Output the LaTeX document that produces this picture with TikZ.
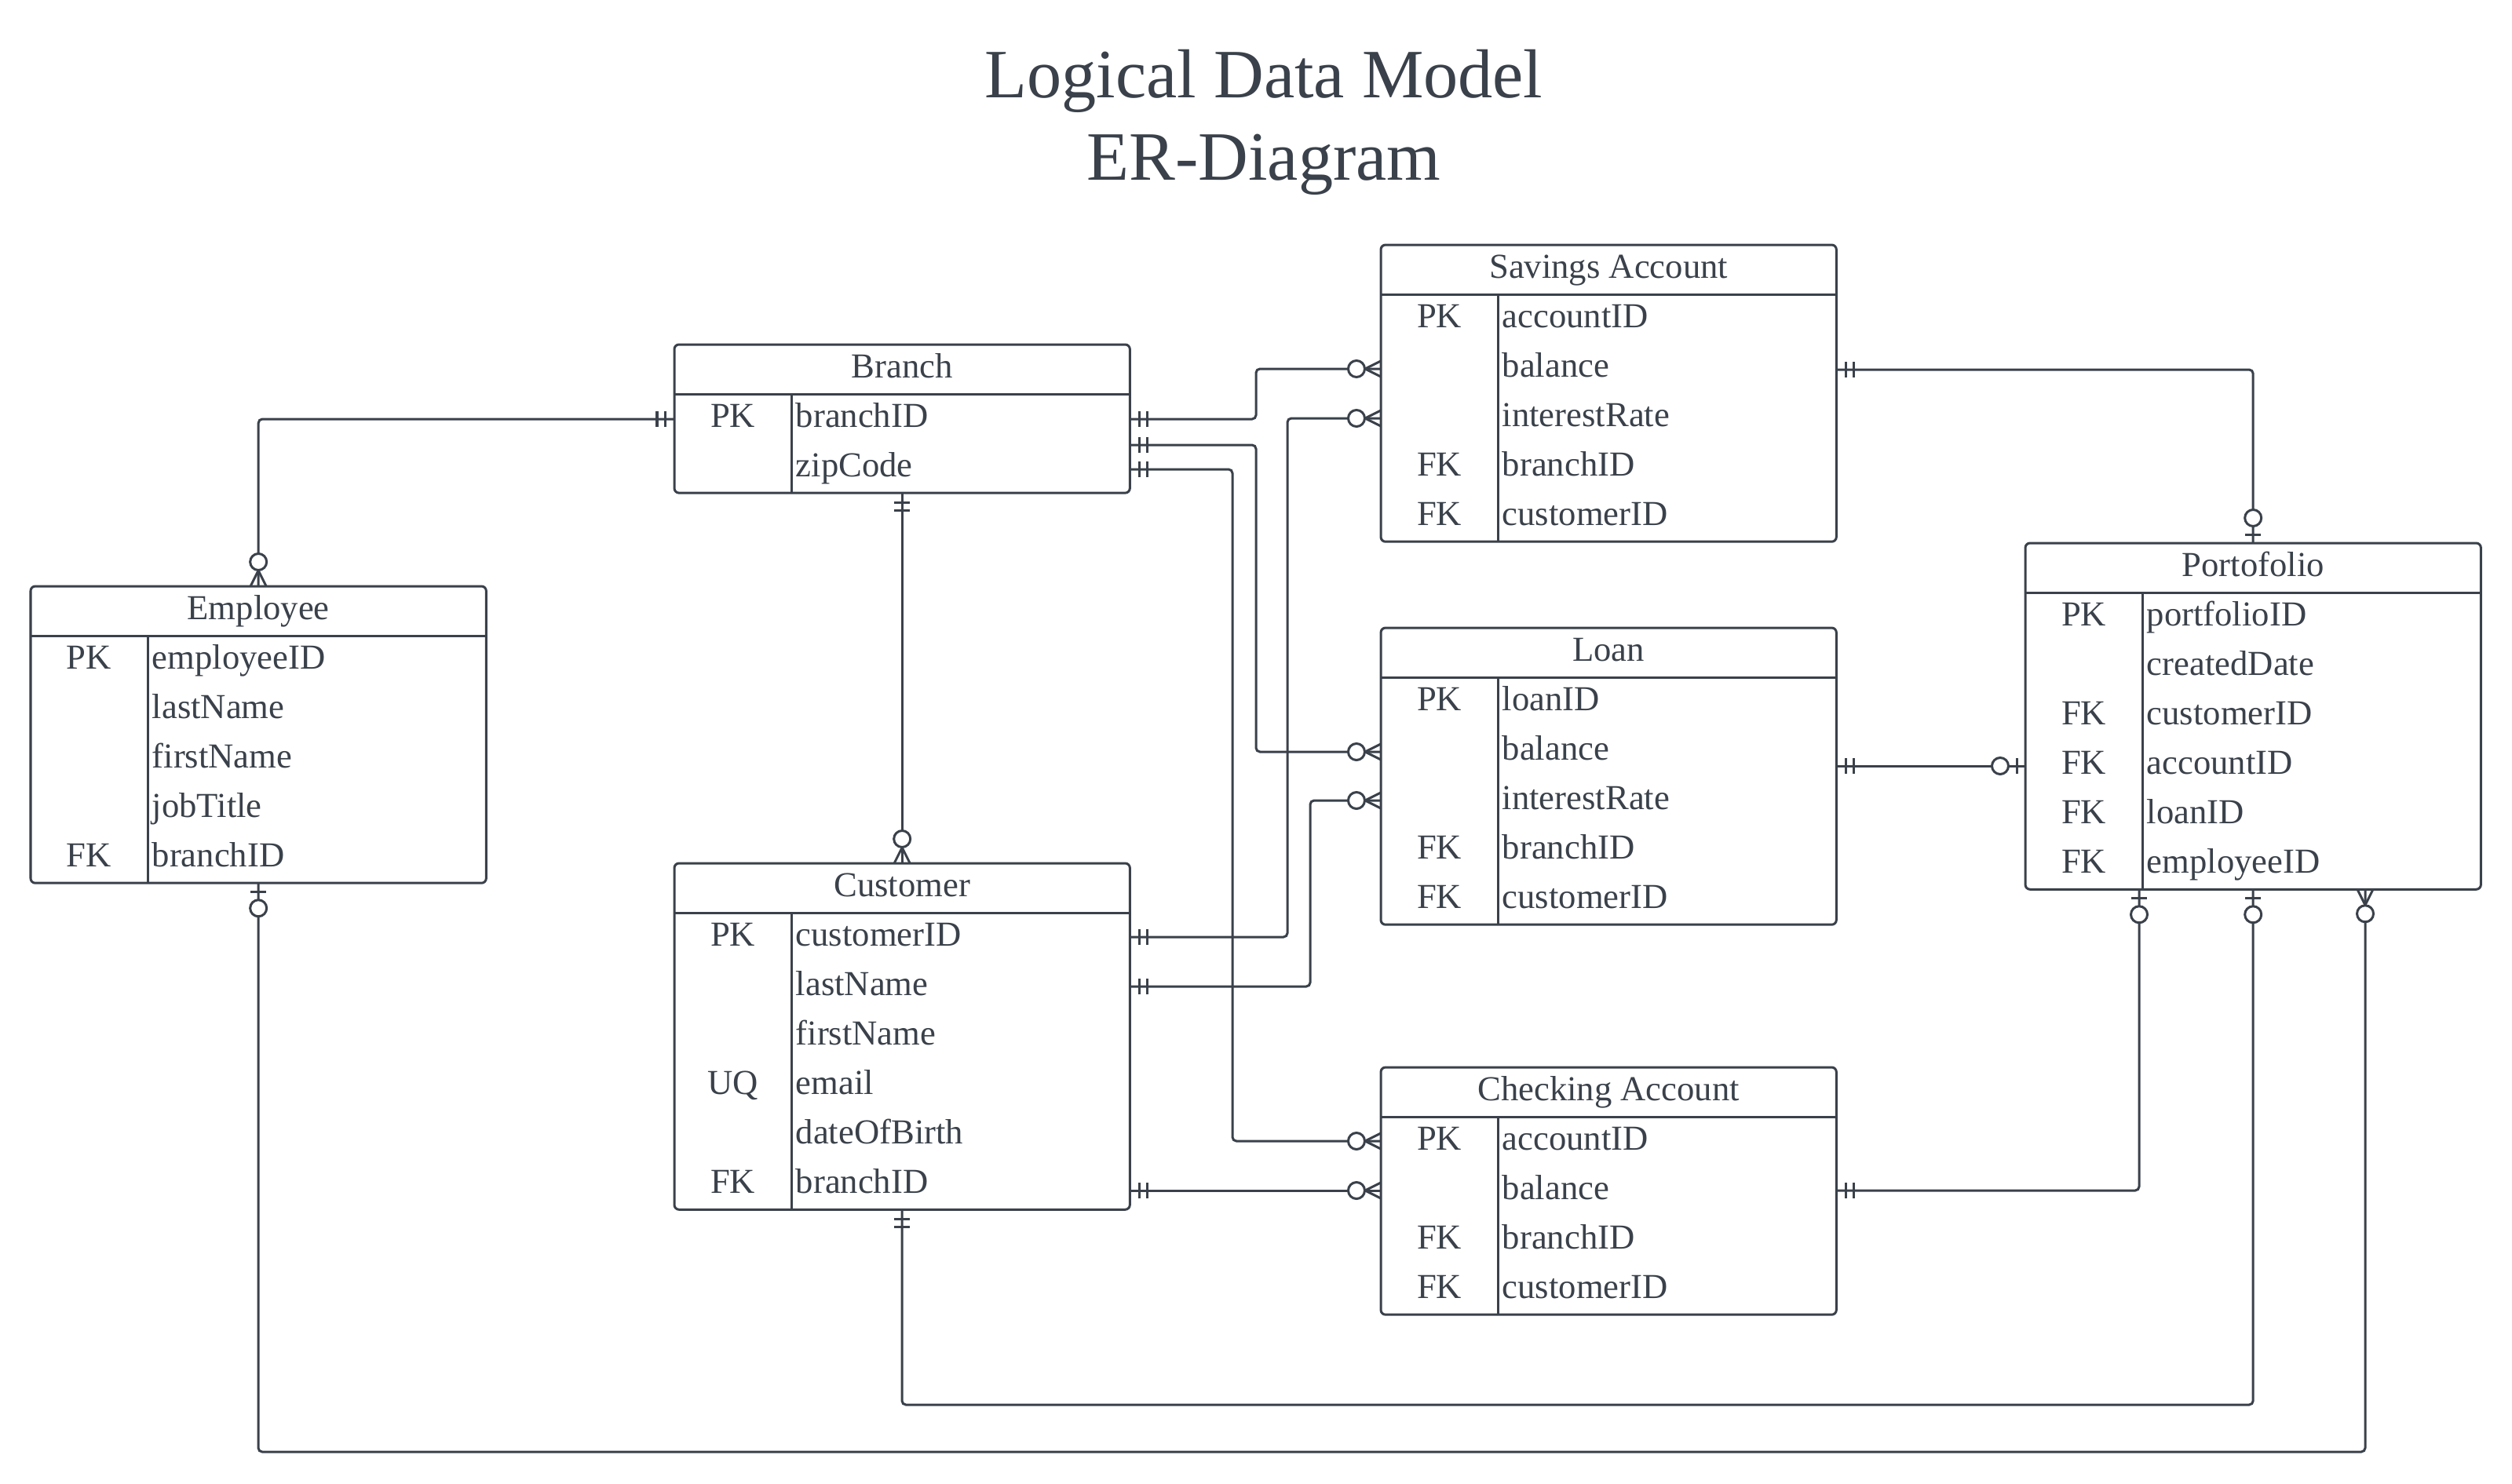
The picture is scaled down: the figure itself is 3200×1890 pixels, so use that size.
\documentclass[tikz,border=0pt]{standalone}
\usepackage{fontspec}
\setmainfont{Liberation Serif}
\usetikzlibrary{calc}
\definecolor{inkc}{HTML}{3A414A}
\tikzset{
  ink/.style={draw=inkc,line width=0.03cm},
  conn/.style={ink,rounded corners=0.05cm},
  entbox/.style={ink,rounded corners=0.06cm,minimum width=5.8cm,anchor=north west,inner sep=0pt,outer sep=0pt,fill=white},
  txt/.style={text=inkc,font=\fontsize{12.7pt}{14pt}\selectfont,inner sep=0pt},
  ttl/.style={text=inkc,font=\fontsize{25.1pt}{30pt}\selectfont,inner sep=0pt,anchor=base}
}
% entity: name, x, y(top), title, number of rows
\newcommand\ERent[5]{%
  \node[entbox,minimum height={(#5+1)*0.63cm}] (#1) at (#2,#3) {};
  \draw[ink] ([yshift=-0.63cm]#1.north west) -- ([yshift=-0.63cm]#1.north east);
  \draw[ink] ([xshift=1.49cm,yshift=-0.63cm]#1.north west) -- ([xshift=1.49cm]#1.south west);
  \node[txt,anchor=base] (#1-title) at ([yshift=-0.42cm]#1.north) {#4};
}
% field: name, row, text
\newcommand\ERrow[3]{%
  \node[txt,anchor=base west] (#1-#2) at ([xshift=1.54cm,yshift={-(#2+0.5)*0.63cm-0.11cm}]#1.north west) {#3};
}
% key: name, row, text
\newcommand\ERkey[3]{%
  \node[txt,anchor=base] (#1-k#2) at ([xshift=0.745cm,yshift={-(#2+0.5)*0.63cm-0.11cm}]#1.north west) {#3};
}
% markers: point, outward angle
\newcommand\mkone[2]{\begin{scope}[shift={(#1)},rotate=#2,x=1cm,y=1cm]
  \draw[ink] (0.12,-0.1)--(0.12,0.1) (0.22,-0.1)--(0.22,0.1);\end{scope}}
\newcommand\mkzm[2]{\begin{scope}[shift={(#1)},rotate=#2,x=1cm,y=1cm]
  \draw[ink] (0,0.1)--(0.2,0) (0,-0.1)--(0.2,0);
  \draw[ink,fill=white] (0.31,0) circle (0.105);\end{scope}}
\newcommand\mkzo[2]{\begin{scope}[shift={(#1)},rotate=#2,x=1cm,y=1cm]
  \draw[ink] (0.11,-0.1)--(0.11,0.1);
  \draw[ink,fill=white] (0.32,0) circle (0.105);\end{scope}}
\begin{document}
\begin{tikzpicture}[x=0.01cm,y=-0.01cm]
\fill[white] (0,0) rectangle (3200,1890);
\useasboundingbox (0,0) rectangle (3200,1890);

\node[ttl] (t1) at (1610,124) {Logical Data Model};
\node[ttl] (t2) at (1610,229) {ER-Diagram};

% entities
\ERent{branch}{859}{439}{Branch}{2}
\ERkey{branch}{1}{PK}\ERrow{branch}{1}{branchID}
\ERrow{branch}{2}{zipCode}

\ERent{savings}{1759}{312}{Savings Account}{5}
\ERkey{savings}{1}{PK}\ERrow{savings}{1}{accountID}
\ERrow{savings}{2}{balance}
\ERrow{savings}{3}{interestRate}
\ERkey{savings}{4}{FK}\ERrow{savings}{4}{branchID}
\ERkey{savings}{5}{FK}\ERrow{savings}{5}{customerID}

\ERent{employee}{39}{747}{Employee}{5}
\ERkey{employee}{1}{PK}\ERrow{employee}{1}{employeeID}
\ERrow{employee}{2}{lastName}
\ERrow{employee}{3}{firstName}
\ERrow{employee}{4}{jobTitle}
\ERkey{employee}{5}{FK}\ERrow{employee}{5}{branchID}

\ERent{portfolio}{2580}{692}{Portofolio}{6}
\ERkey{portfolio}{1}{PK}\ERrow{portfolio}{1}{portfolioID}
\ERrow{portfolio}{2}{createdDate}
\ERkey{portfolio}{3}{FK}\ERrow{portfolio}{3}{customerID}
\ERkey{portfolio}{4}{FK}\ERrow{portfolio}{4}{accountID}
\ERkey{portfolio}{5}{FK}\ERrow{portfolio}{5}{loanID}
\ERkey{portfolio}{6}{FK}\ERrow{portfolio}{6}{employeeID}

\ERent{loan}{1759}{800}{Loan}{5}
\ERkey{loan}{1}{PK}\ERrow{loan}{1}{loanID}
\ERrow{loan}{2}{balance}
\ERrow{loan}{3}{interestRate}
\ERkey{loan}{4}{FK}\ERrow{loan}{4}{branchID}
\ERkey{loan}{5}{FK}\ERrow{loan}{5}{customerID}

\ERent{customer}{859}{1100}{Customer}{6}
\ERkey{customer}{1}{PK}\ERrow{customer}{1}{customerID}
\ERrow{customer}{2}{lastName}
\ERrow{customer}{3}{firstName}
\ERkey{customer}{4}{UQ}\ERrow{customer}{4}{email}
\ERrow{customer}{5}{dateOfBirth}
\ERkey{customer}{6}{FK}\ERrow{customer}{6}{branchID}

\ERent{checking}{1759}{1360}{Checking Account}{4}
\ERkey{checking}{1}{PK}\ERrow{checking}{1}{accountID}
\ERrow{checking}{2}{balance}
\ERkey{checking}{3}{FK}\ERrow{checking}{3}{branchID}
\ERkey{checking}{4}{FK}\ERrow{checking}{4}{customerID}

% connector end points
\coordinate (c1s) at (branch.west |- 0,534);
\coordinate (c2s) at (branch.east |- 0,534);
\coordinate (c2e) at (savings.west |- 0,470);
\coordinate (c3s) at (branch.east |- 0,567);
\coordinate (c3e) at (loan.west |- 0,958);
\coordinate (c4s) at (branch.east |- 0,598);
\coordinate (c4e) at (checking.west |- 0,1454);
\coordinate (c5s) at (customer.east |- 0,1194);
\coordinate (c5e) at (savings.west |- 0,533);
\coordinate (c6s) at (customer.east |- 0,1257);
\coordinate (c6e) at (loan.west |- 0,1020);
\coordinate (c7s) at (customer.east |- 0,1517);
\coordinate (c7e) at (checking.west |- 0,1517);
\coordinate (c9s) at (savings.east |- 0,471);
\coordinate (c10s) at (loan.east |- 0,976);
\coordinate (c10e) at (portfolio.west |- 0,976);
\coordinate (c11s) at (checking.east |- 0,1517);
\coordinate (c11e) at (portfolio.south -| 2725,0);
\coordinate (c13e) at (portfolio.south -| 3013,0);

% connectors
\draw[conn] (c1s) -| (employee.north);
\draw[conn] (c2s) -- (1600,534) |- (c2e);
\draw[conn] (c3s) -- (1600,567) |- (c3e);
\draw[conn] (c4s) -- (1570,598) |- (c4e);
\draw[conn] (c5s) -- (1640,1194) |- (c5e);
\draw[conn] (c6s) -- (1669,1257) |- (c6e);
\draw[conn] (c7s) -- (c7e);
\draw[conn] (branch.south) -- (customer.north);
\draw[conn] (c9s) -| (portfolio.north);
\draw[conn] (c10s) -- (c10e);
\draw[conn] (c11s) -| (c11e);
\draw[conn] (customer.south) -- (1149,1790) -| (portfolio.south);
\draw[conn] (employee.south) -- (329,1850) -| (c13e);

% markers
\mkone{c1s}{180} \mkzm{employee.north}{90}
\mkone{c2s}{0} \mkzm{c2e}{180}
\mkone{c3s}{0} \mkzm{c3e}{180}
\mkone{c4s}{0} \mkzm{c4e}{180}
\mkone{c5s}{0} \mkzm{c5e}{180}
\mkone{c6s}{0} \mkzm{c6e}{180}
\mkone{c7s}{0} \mkzm{c7e}{180}
\mkone{branch.south}{-90} \mkzm{customer.north}{90}
\mkone{c9s}{0} \mkzo{portfolio.north}{90}
\mkone{c10s}{0} \mkzo{c10e}{180}
\mkone{c11s}{0} \mkzo{c11e}{-90}
\mkone{customer.south}{-90} \mkzo{portfolio.south}{-90}
\mkzo{employee.south}{-90} \mkzm{c13e}{-90}
\end{tikzpicture}
\end{document}
